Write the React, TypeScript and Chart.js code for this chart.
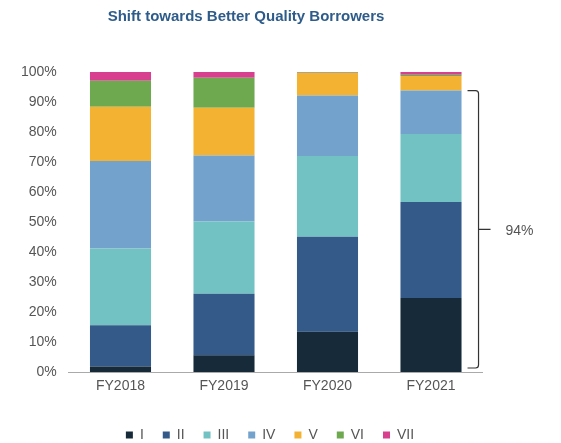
import React, { useEffect, useRef } from "react";
import { Chart, registerables } from "chart.js";

Chart.register(...registerables);

const categories = ["FY2018", "FY2019", "FY2020", "FY2021"];
const seriesNames = ["I", "II", "III", "IV", "V", "VI", "VII"];
const gradeI = [1.8, 5.6, 13.4, 24.7];
const gradeII = [13.8, 20.5, 31.7, 32.0];
const gradeIII = [25.6, 24.1, 26.9, 22.6];
const gradeIV = [29.1, 22.0, 20.2, 14.5];
const gradeV = [18.1, 15.9, 7.5, 4.9];
const gradeVI = [8.7, 10.0, 0.1, 0.4];
const gradeVII = [2.9, 1.9, 0.2, 0.9];
const seriesColors = ["#172a3a", "#335a89", "#72c2c4", "#73a3cc", "#f4b233", "#6ea950", "#d93f8f"];
const yTicks = [0, 10, 20, 30, 40, 50, 60, 70, 80, 90, 100];
const titleText = "Shift towards Better Quality Borrowers";
const bracketCategory = 3;
const bracketSeriesCount = 4;

const FONT = "'Liberation Sans', Arial, sans-serif";

const titlePlugin = {
  id: "customTitle",
  afterDraw(chart: any) {
    const ctx = chart.ctx;
    ctx.save();
    ctx.font = `bold 15px ${FONT}`;
    ctx.fillStyle = "#2e5c8a";
    ctx.textAlign = "center";
    ctx.textBaseline = "middle";
    ctx.fillText(titleText, 246, 17);
    ctx.restore();
  },
};

const bracketPlugin = {
  id: "bracket",
  afterDatasetsDraw(chart: any) {
    const ctx = chart.ctx;
    const yScale = chart.scales.y;
    const all = [gradeI, gradeII, gradeIII, gradeIV, gradeV, gradeVI, gradeVII];
    let total = 0;
    for (let i = 0; i < bracketSeriesCount; i++) total += all[i][bracketCategory];
    const el = chart.getDatasetMeta(0).data[bracketCategory];
    const right = el.x + el.width / 2;
    const x = right + 17;
    const yTop = yScale.getPixelForValue(total);
    const yBot = yScale.getPixelForValue(0) - 4;
    const yMid = (yTop + yBot) / 2;
    ctx.save();
    ctx.strokeStyle = "#333333";
    ctx.lineWidth = 1.2;
    ctx.beginPath();
    ctx.moveTo(x - 11, yTop);
    ctx.lineTo(x - 3, yTop);
    ctx.quadraticCurveTo(x, yTop, x, yTop + 3);
    ctx.lineTo(x, yBot - 3);
    ctx.quadraticCurveTo(x, yBot, x - 3, yBot);
    ctx.lineTo(x - 11, yBot);
    ctx.moveTo(x, yMid);
    ctx.lineTo(x + 12, yMid);
    ctx.stroke();
    ctx.font = `14px ${FONT}`;
    ctx.fillStyle = "#555555";
    ctx.textAlign = "left";
    ctx.textBaseline = "middle";
    ctx.fillText(`${Math.round(total)}%`, x + 27, yMid + 2);
    ctx.restore();
  },
};

export default function App() {
  const ref = useRef<HTMLCanvasElement | null>(null);
  useEffect(() => {
    if (!ref.current) return;
    const all = [gradeI, gradeII, gradeIII, gradeIV, gradeV, gradeVI, gradeVII];
    const chart = new Chart(ref.current, {
      type: "bar",
      data: {
        labels: categories,
        datasets: all.map((d, i) => ({
          label: seriesNames[i],
          data: d,
          backgroundColor: seriesColors[i],
          borderWidth: 0,
          categoryPercentage: 1,
          barPercentage: 0.59,
        })),
      },
      options: {
        responsive: false,
        animation: false,
        devicePixelRatio: 1,
        layout: { padding: { top: 72, left: 0, right: 21, bottom: -9 } },
        plugins: {
          title: { display: false },
          tooltip: { enabled: false },
          legend: {
            position: "bottom",
            labels: {
              boxWidth: 7,
              boxHeight: 7,
              padding: 19,
              color: "#555555",
              font: { family: FONT, size: 14 },
            },
          },
        },
        scales: {
          x: {
            stacked: true,
            grid: { display: false, drawTicks: false },
            border: { display: true, color: "#aaaaaa", width: 1 },
            ticks: { color: "#555555", padding: 6, font: { family: FONT, size: 14 } },
            afterFit(s: any) {
              s.height = 37;
            },
          },
          y: {
            stacked: true,
            min: 0,
            max: 100,
            grid: { display: false, drawTicks: false },
            border: { display: false },
            afterBuildTicks(s: any) {
              s.ticks = yTicks.map((v) => ({ value: v }));
            },
            ticks: {
              color: "#555555",
              padding: 12,
              font: { family: FONT, size: 14 },
              callback: (v: any) => `${v}%`,
            },
            afterFit(s: any) {
              s.width = 68.75;
            },
          },
          yRight: {
            position: "right",
            display: true,
            grid: { display: false, drawTicks: false },
            border: { display: false },
            ticks: { display: false },
            afterFit(s: any) {
              s.width = 57.25;
            },
          },
        },
      },
      plugins: [titlePlugin, bracketPlugin],
    } as any);
    return () => chart.destroy();
  }, []);
  return (
    <div style={{ position: "fixed", left: 0, top: 0, width: 561, height: 443, background: "#fff" }}>
      <canvas ref={ref} width={561} height={443} style={{ width: 561, height: 443, display: "block" }} />
    </div>
  );
}
